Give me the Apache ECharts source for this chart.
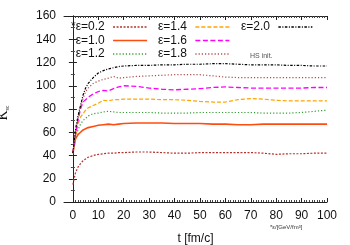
<!DOCTYPE html>
<html>
<head>
<meta charset="utf-8">
<script src="https://cdn.jsdelivr.net/npm/echarts@6/dist/echarts.min.js"></script>
<style>html,body{margin:0;padding:0;background:#fff;}#c{width:350px;height:245px;}</style>
</head>
<body>
<div id="c"></div>
<script>
const tValues = [0,1,2,3,4,5,6,8,10,12,14,16,18,20,25,30,35,40,45,50,55,60,65,70,75,80,85,90,95,100];
const eps02 = [15,25,30,33,35.5,37,38.5,40,41,41.5,42,42,42.5,42.5,43,43,42.5,42,42,42.5,42.5,42.5,42.5,42.5,42,41,41.5,41.5,42,42];
const eps10 = [42,54,58,60,62,63,64,65,66,66.5,67,66.5,67,67.5,68,68,68,67.5,67.5,67.5,67,67,66.5,66.5,67,67,67,67,67,67];
const eps12 = [42,55,62,67,70,72,74,76,76.5,77.5,78,77.5,77,77,77,77,76.5,76.5,76.5,77,77,77,77,77,76.5,76.5,76.5,77,78,79];
const eps14 = [42,57,67,73,76,79,81,83,85,87.5,87,88,88,88.5,88.5,88.5,88,88,87.5,86.5,86,86,88,89,88.5,87.5,87,87,87,87];
const eps16 = [42,58,70,80,86,88,90,93,95,96,95.5,97.5,99,100,99.5,98,97,96.5,97,97.5,98.5,99,98.5,98,98,98,98,98,98.5,98.5];
const eps18 = [42,60,72,82,89,95,98,102,104,105.5,106.5,108,106.5,107,108,108.5,109,109.5,109.5,109.5,108.5,107.5,107,107,107,107,107,107,107,107];
const eps20 = [42,62,74,83,92,98,102,107,111,113,114.5,115.5,116.5,117,117.5,117.5,118,118,118.5,118.5,119,119,118.5,118,118,118,117.5,117.5,117,117];
const seriesNames = ['*ε=0.2','ε=1.0','ε=1.2','ε=1.4','ε=1.6','ε=1.8','ε=2.0'];
const xTickLabels = [0,10,20,30,40,50,60,70,80,90,100];
const yTickLabels = [0,20,40,60,80,100,120,140,160];

const allSeries = [eps02, eps10, eps12, eps14, eps16, eps18, eps20];
const colors = ['#b5322e','#ff4d10','#2e9e2e','#ffa500','#ff00ff','#b04c4c','#000000'];
const dashes = [[2,1.5],'solid',[1.2,2],[4,2],[5,2.5],[1.2,2],[2.5,1.5,1,1.5]];
const widths = [1.2,1.6,1.2,1.2,1.3,1.2,1.2];

const minorX = [];
for (let i = 0; i <= 100; i++) if (i % 10 !== 0) minorX.push(i);

const FONT = 'Liberation Sans';
const series = allSeries.map((vals, i) => ({
  name: seriesNames[i],
  type: 'line',
  xAxisIndex: 0,
  yAxisIndex: 0,
  symbol: 'none',
  showSymbol: false,
  data: tValues.map((t, j) => [t, vals[j]]),
  lineStyle: { color: colors[i], width: widths[i], type: dashes[i] },
  itemStyle: { color: colors[i] },
  z: 3 + i
}));

const baseX = { type: 'value', min: -3.5, max: 100, splitLine: { show: false } };
const legendBase = {
  orient: 'vertical', top: 21, padding: 0, itemGap: 1.5, itemWidth: 34, itemHeight: 12,
  align: 'right',
  formatter: function (n) { return n + ' '; },
  textStyle: { fontSize: 12, color: '#111', fontFamily: FONT },
  itemStyle: { opacity: 0 },
  lineStyle: { width: 1.3 }
};

const chart = echarts.init(document.getElementById('c'), null, { renderer: 'canvas' });
chart.setOption({
  animation: false,
  backgroundColor: '#fff',
  grid: { left: 64, right: 23, top: 16, bottom: 43, outerBoundsMode: 'none', containLabel: false },
  legend: [
    Object.assign({}, legendBase, { left: 71, data: seriesNames.slice(0,3) }),
    Object.assign({}, legendBase, { left: 158, data: seriesNames.slice(3,6) }),
    Object.assign({}, legendBase, { left: 241, data: seriesNames.slice(6) })
  ],
  xAxis: [
    Object.assign({}, baseX, {
      position: 'bottom',
      name: 't [fm/c]', nameLocation: 'middle', nameGap: 31,
      nameTextStyle: { fontSize: 12, color: '#111', fontFamily: FONT },
      axisLine: { show: true, lineStyle: { color: '#222', width: 1 } },
      axisTick: { show: true, inside: true, length: 4, customValues: xTickLabels, lineStyle: { color: '#222' } },
      axisLabel: { customValues: xTickLabels, margin: 8, fontSize: 12, color: '#111', fontFamily: FONT }
    }),
    Object.assign({}, baseX, {
      position: 'bottom',
      axisLine: { show: false },
      axisTick: { show: true, inside: true, length: 2, customValues: minorX, lineStyle: { color: '#444' } },
      axisLabel: { show: false }
    }),
    Object.assign({}, baseX, {
      position: 'top',
      axisLine: { show: true, lineStyle: { color: '#222', width: 1 } },
      axisTick: { show: true, inside: true, length: 4, customValues: xTickLabels, lineStyle: { color: '#222' } },
      axisLabel: { show: false }
    }),
    Object.assign({}, baseX, {
      position: 'top',
      axisLine: { show: false },
      axisTick: { show: true, inside: true, length: 2, customValues: minorX, lineStyle: { color: '#444' } },
      axisLabel: { show: false }
    })
  ],
  yAxis: [
    {
      type: 'value', min: 0, max: 160, interval: 20, position: 'left',
      name: '{k|K}{s|sc}', nameLocation: 'middle', nameGap: 54, nameRotate: 90,
      nameTextStyle: { padding: [0, 0, 0, -8], rich: {
        k: { fontSize: 14, fontFamily: 'Liberation Serif', color: '#111' },
        s: { fontSize: 5, fontFamily: FONT, color: '#333', verticalAlign: 'bottom' }
      } },
      splitLine: { show: false },
      axisLine: { show: true, lineStyle: { color: '#222', width: 1 } },
      axisTick: { show: true, inside: true, length: 4, lineStyle: { color: '#222' } },
      minorTick: { show: true, splitNumber: 2, length: 2, lineStyle: { color: '#444' } },
      axisLabel: { margin: 8, fontSize: 12, color: '#111', fontFamily: FONT,
        customValues: yTickLabels }
    },
    {
      type: 'value', min: 0, max: 160, interval: 20, position: 'right',
      splitLine: { show: false },
      axisLine: { show: true, lineStyle: { color: '#222', width: 1 } },
      axisTick: { show: true, inside: true, length: 4, lineStyle: { color: '#222' } },
      minorTick: { show: true, splitNumber: 2, length: 2, lineStyle: { color: '#444' } },
      axisLabel: { show: false }
    }
  ],
  graphic: [
    { type: 'text', left: 250, top: 53, style: { text: 'HS init.', fontSize: 7, fill: '#555', fontFamily: FONT } },
    { type: 'text', left: 270, top: 224, style: { text: '*ε/[GeV/fm³]', fontSize: 6, fill: '#333', fontFamily: FONT } }
  ],
  series: series
});
</script>
</body>
</html>
